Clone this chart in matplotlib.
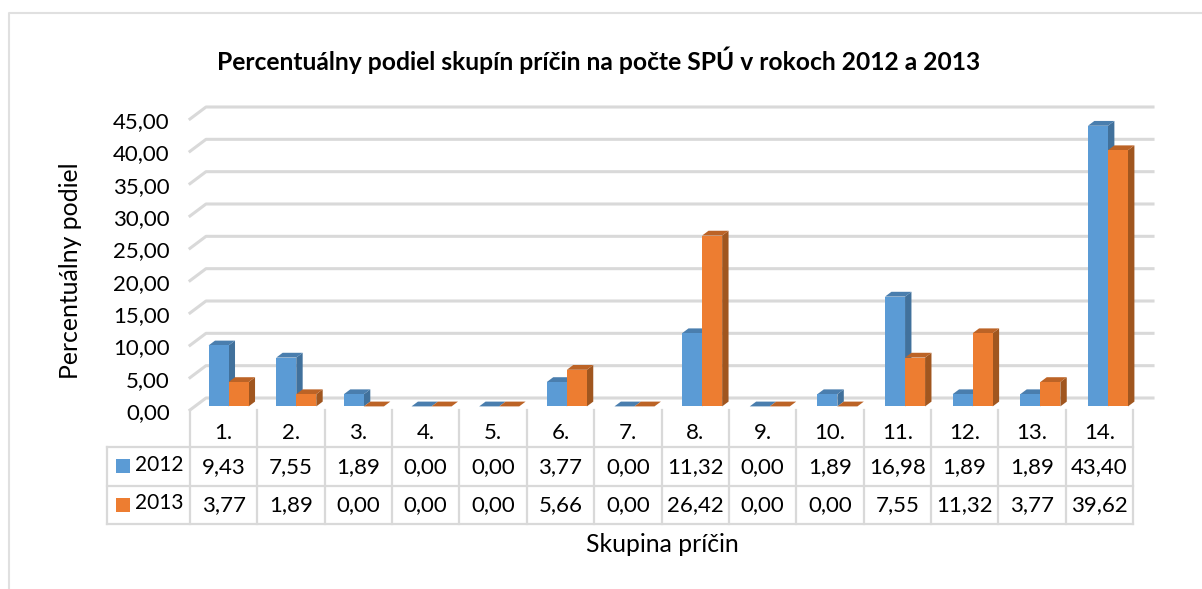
import matplotlib
matplotlib.use("Agg")
import matplotlib.pyplot as plt
from matplotlib.patches import Polygon, Rectangle
from matplotlib.transforms import ScaledTranslation

plt.rcParams['font.family'] = ['Lato', 'DejaVu Sans']

categories = ['1.', '2.', '3.', '4.', '5.', '6.', '7.', '8.', '9.', '10.', '11.', '12.', '13.', '14.']
values_2012 = [9.43, 7.55, 1.89, 0.00, 0.00, 3.77, 0.00, 11.32, 0.00, 1.89, 16.98, 1.89, 1.89, 43.40]
values_2013 = [3.77, 1.89, 0.00, 0.00, 0.00, 5.66, 0.00, 26.42, 0.00, 0.00, 7.55, 11.32, 3.77, 39.62]
yticks = [0, 5, 10, 15, 20, 25, 30, 35, 40, 45]

W, H = 1202, 589
GRID = '#D9D9D9'
BLUE = ('#5B9BD5', '#41719C', '#4A7EAE')
ORANGE = ('#ED7D31', '#A0561F', '#BC6326')


def fmt(v):
    return f'{v:.2f}'.replace('.', ',')


fig = plt.figure(figsize=(W / 100, H / 100), dpi=100)

# background layer in pixels, for the outer frame
bg = fig.add_axes([0, 0, 1, 1])
bg.set_xlim(0, W)
bg.set_ylim(H, 0)
bg.axis('off')
bg.plot([9, 9, W], [H, 13, 13], color='#E0E0E0', lw=1.5)

# front plane of the 3D plot
left, right, top, bottom = 190, 1137, 119, 410
ax = fig.add_axes([left / W, 1 - bottom / H, (right - left) / W, (bottom - top) / H])
ax.set_xlim(0, 14)
ax.set_ylim(0, 45)
ax.patch.set_alpha(0)
for s in ax.spines.values():
    s.set_visible(False)
ax.set_xticks([])
ax.set_yticks(yticks)
ax.set_yticklabels([fmt(v) for v in yticks], fontsize=16, color='black')
ax.tick_params(axis='y', length=0, pad=14.5)
# tick labels sit a little below their gridline start
down = ScaledTranslation(0, -1 / 100, fig.dpi_scale_trans)
for lab in ax.get_yticklabels():
    lab.set_transform(lab.get_transform() + down)
ax.set_ylabel('Percentuálny podiel', fontsize=17.8)
ax.yaxis.set_label_coords(-0.114, 0.48)

# depth of the floor in data units
dx = 16 / ((right - left) / 14)
dy = 12 / ((bottom - top) / 45)

for v in yticks:
    ax.plot([0, dx, 14 + dx], [v, v + dy, v + dy], color=GRID, lw=2.2, clip_on=False, zorder=1)


def bar3d(x0, x1, v, cols):
    # bar sits between 30 % and 70 % of the depth
    fx, fy = 0.3 * dx, 0.3 * dy
    bx, by = 0.7 * dx, 0.7 * dy
    front = [(x0 + fx, fy), (x1 + fx, fy), (x1 + fx, v + fy), (x0 + fx, v + fy)]
    side = [(x1 + fx, fy), (x1 + bx, by), (x1 + bx, v + by), (x1 + fx, v + fy)]
    roof = [(x0 + fx, v + fy), (x1 + fx, v + fy), (x1 + bx, v + by), (x0 + bx, v + by)]
    for pts, c in ((side, cols[1]), (roof, cols[2]), (front, cols[0])):
        ax.add_patch(Polygon(pts, closed=True, facecolor=c, edgecolor='none', clip_on=False, zorder=3))


bar_w = 0.296
for i in range(len(categories)):
    mid = i + 0.5
    bar3d(mid - bar_w, mid, values_2012[i], BLUE)
    bar3d(mid, mid + bar_w, values_2013[i], ORANGE)

# data table under the plot, y in pixels
table_right = 1133
tb = fig.add_axes([left / W, 1 - 524 / H, (table_right - left) / W, (524 - 410) / H])
tb.set_xlim(0, 14)
tb.set_ylim(524, 410)
tb.axis('off')
table_left = (107 - left) / ((table_right - left) / 14)
for i in range(15):
    tb.plot([i, i], [410, 524], color=GRID, lw=1.6, clip_on=False)
tb.plot([table_left, table_left], [447, 524], color=GRID, lw=1.6, clip_on=False)
for y in (447, 486, 524):
    tb.plot([table_left, 14], [y, y], color=GRID, lw=1.6, clip_on=False)

for i, cat in enumerate(categories):
    tb.text(i + 0.5, 433, cat, ha='center', va='center', fontsize=16)
    tb.text(i + 0.5, 467, fmt(values_2012[i]), ha='center', va='center', fontsize=16)
    tb.text(i + 0.5, 505, fmt(values_2013[i]), ha='center', va='center', fontsize=16)

# legend keys and series names, in pixels
bg.add_patch(Rectangle((116, 459), 14, 14, facecolor=BLUE[0], edgecolor='none'))
bg.add_patch(Rectangle((116, 498), 14, 14, facecolor=ORANGE[0], edgecolor='none'))
bg.text(135, 465, '2012', ha='left', va='center', fontsize=15)
bg.text(135, 503, '2013', ha='left', va='center', fontsize=15)

bg.text(599, 60, 'Percentuálny podiel skupín príčin na počte SPÚ v rokoch 2012 a 2013',
        ha='center', va='center', fontsize=17.7, fontweight='bold')
bg.text(662, 545, 'Skupina príčin', ha='center', va='center', fontsize=17.8)

fig.savefig('out.png', dpi=100)
